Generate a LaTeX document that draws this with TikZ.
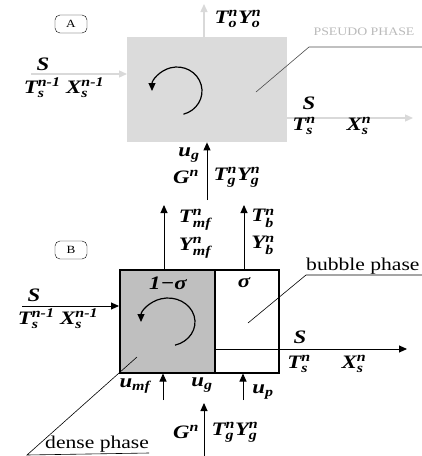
\documentclass[tikz,border=0pt]{standalone}
\usepackage{amsmath}
\usepackage{fontspec}
\setmainfont[FakeStretch=1.2]{Liberation Serif}
\usetikzlibrary{arrows.meta}
\newcommand{\mv}[3]{\ensuremath{\text{#1}^{\text{#3}}_{\text{#2}}}}
\newcommand{\mvsub}[2]{\ensuremath{\text{#1}_{\text{#2}}}}
\newcommand{\mvsup}[2]{\ensuremath{\text{#1}^{\text{#2}}}}

\begin{document}
\begin{tikzpicture}[x=1pt,y=-1pt,>={Triangle[length=8pt,width=7pt]},
 lbl/.style={font=\fontsize{19}{21}\selectfont\bfseries\itshape,inner sep=0pt},
 tag/.style={draw,rounded corners=5pt,minimum width=32pt,minimum height=18pt,inner sep=0pt,font=\fontsize{11}{12}\selectfont},
 phase/.style={font=\fontsize{18}{20}\selectfont,inner sep=0pt},
 flow/.style={->,line width=0.9pt},
 ghost/.style={->,draw=black!15,line width=1.3pt},
 lead/.style={line width=0.6pt}]
\useasboundingbox (0,0) rectangle (422,456);
% part A
\node[tag] (tA) at (71,24) {A};
\node[fill=black!14,anchor=north west,minimum width=160pt,minimum height=105pt,inner sep=0pt] (pA) at (127,37) {};
\coordinate (inA) at (31,74); \coordinate (outA) at (413,118);
\coordinate (topA) at (204,4); \coordinate (botA) at (207,200);
\draw[ghost] (inA) -- (inA -| pA.west);
\draw[ghost] (topA |- pA.north) -- (topA);
\draw[ghost] (outA -| pA.east) -- (outA);
\draw[flow] (botA) -- (botA |- pA.south);
\coordinate (rA) at (177,91);
\draw[->,line width=1.2pt] ([shift={(-75:25pt and 24pt)}]rA) arc[start angle=-75,end angle=180,x radius=25pt,y radius=24pt];
\node[lbl] (sA) at (43,64) {S};
\node[lbl] (xinA) at (64,88) {\mv{T}{s}{n-1}\ \mv{X}{s}{n-1}};
\node[lbl] (oA) at (238,19) {\mv{T}{o}{n}\mv{Y}{o}{n}};
\node[lbl] (soA) at (309,103) {S};
\node[lbl] (tsA) at (304,126) {\mv{T}{s}{n}};
\node[lbl] (xsA) at (359,126) {\mv{X}{s}{n}};
\node[lbl] (ugA) at (189,155) {\mvsub{u}{g}};
\node[lbl] (gA) at (186,177) {\mvsup{G}{n}};
\node[lbl] (tgA) at (237,177) {\mv{T}{g}{n}\mv{Y}{g}{n}};
\node[font=\fontsize{11.5}{13}\selectfont,text=black!27,inner sep=0pt] (psA) at (364,32) {PSEUDO PHASE};
\coordinate (kA) at (309,47);
\draw[lead,black!70] (256,92) -- (kA) -- (kA -| 422,0);
% part B
\node[tag] (tB) at (71,250) {B};
\node[fill=black!25,draw,line width=1.5pt,anchor=north west,minimum width=95pt,minimum height=103pt,inner sep=0pt] (dB) at (119,269) {};
\node[draw,line width=1.5pt,anchor=north west,minimum width=64pt,minimum height=103pt,inner sep=0pt] (bB) at (214,269) {};
\coordinate (inB) at (22,306); \coordinate (outB) at (407,349);
\draw[flow] (inB) -- (inB -| dB.west);
\draw[lead] (outB -| bB.west) -- (outB -| bB.east);
\draw[flow] (outB -| bB.east) -- (outB);
\coordinate (mfB) at (164,205); \coordinate (bbB) at (244,205);
\draw[flow] (mfB |- dB.north) -- (mfB);
\draw[flow] (bbB |- bB.north) -- (bbB);
\coordinate (umB) at (163,400); \coordinate (upB) at (243,400); \coordinate (gB) at (204,456);
\draw[flow] (umB) -- (umB |- dB.south);
\draw[flow] (upB) -- (upB |- bB.south);
\draw[flow] (gB) -- (204,403);
\coordinate (rB) at (168,322);
\draw[->,line width=1.2pt] ([shift={(-75:27pt and 24pt)}]rB) arc[start angle=-75,end angle=180,x radius=27pt,y radius=24pt];
\node[lbl] (sgB) at (168,283) {1−σ};
\node[lbl] (bsB) at (244,283) {σ};
\node[lbl] (tmB) at (195,220) {\mv{T}{mf}{n}};
\node[lbl] (ymB) at (195,248) {\mv{Y}{mf}{n}};
\node[lbl] (tbB) at (263,218) {\mv{T}{b}{n}};
\node[lbl] (ybB) at (263,245) {\mv{Y}{b}{n}};
\node[lbl] (sB) at (34,295) {S};
\node[lbl] (xinB) at (58,319) {\mv{T}{s}{n-1}\ \mv{X}{s}{n-1}};
\node[lbl] (soB) at (300,337) {S};
\node[lbl] (tsB) at (299,364) {\mv{T}{s}{n}};
\node[lbl] (xsB) at (354,364) {\mv{X}{s}{n}};
\node[lbl] (umfB) at (135,386) {\mvsub{u}{mf}};
\node[lbl] (ugB) at (202,385) {\mvsub{u}{g}};
\node[lbl] (upB2) at (263,392) {\mvsub{u}{p}};
\node[lbl] (gnB) at (186,432) {\mvsup{G}{n}};
\node[lbl] (tgB) at (235,432) {\mv{T}{g}{n}\mv{Y}{g}{n}};
\node[phase,anchor=south west] (bpB) at (306,275) {bubble phase};
\draw[lead] (248,323) -- (bpB.south west) -- (bpB.south east -| 422,0);
\node[phase,anchor=south west] (dpB) at (45,453) {dense phase};
\draw[lead] (137,357) -- (27,455) -- (dpB.south east);
\end{tikzpicture}
\end{document}
